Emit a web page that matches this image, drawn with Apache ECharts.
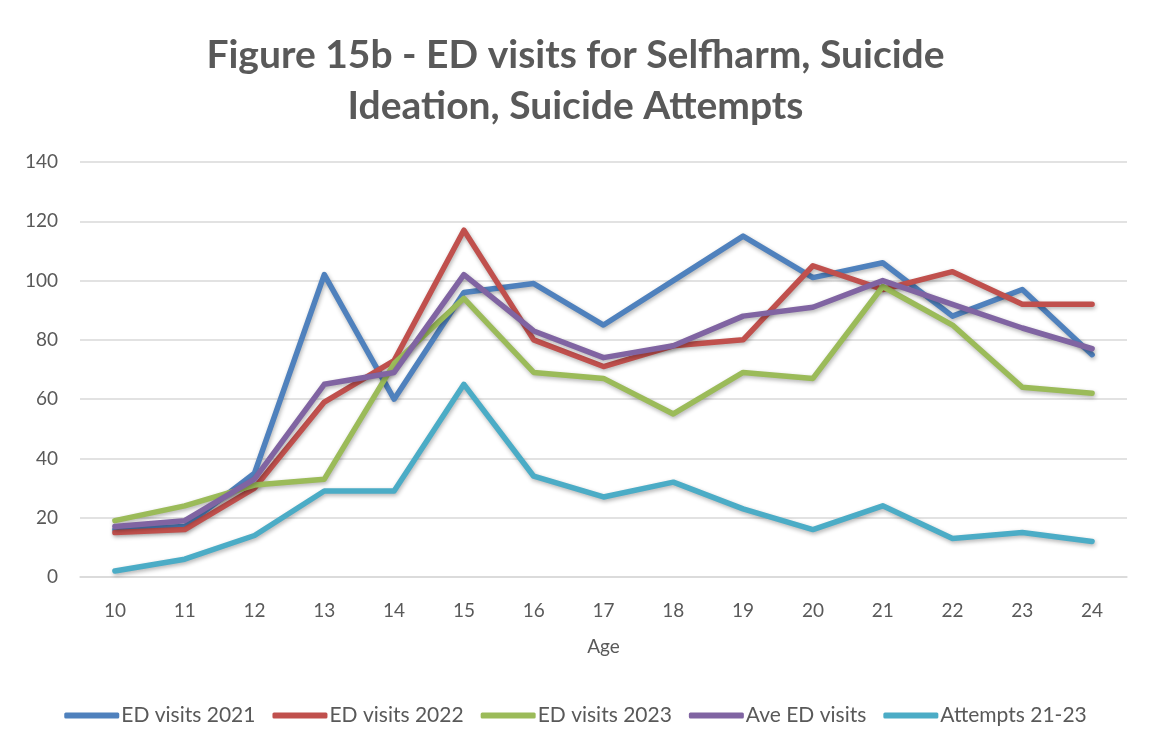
<!DOCTYPE html>
<html><head><meta charset="utf-8">
<script src="https://cdn.jsdelivr.net/npm/echarts@6/dist/echarts.min.js"></script>
<style>html,body{margin:0;padding:0;background:#fff}#c{width:1151px;height:751px}</style>
</head><body><div id="c"></div>
<script>
const ages = ['10','11','12','13','14','15','16','17','18','19','20','21','22','23','24'];
const ed2021 = [16,17,35,102,60,96,99,85,100,115,101,106,88,97,75];
const ed2022 = [15,16,30,59,73,117,80,71,78,80,105,97,103,92,92];
const ed2023 = [19,24,31,33,72,94,69,67,55,69,67,98,85,64,62];
const edAve = [17,19,33,65,69,102,83,74,78,88,91,100,92,84,77];
const attempts = [2,6,14,29,29,65,34,27,32,23,16,24,13,15,12];
const yTicks = [0,20,40,60,80,100,120,140];
const names = ['ED visits 2021','ED visits 2022','ED visits 2023','Ave ED visits','Attempts 21-23'];
const colors = ['#4f81bd','#c0504d','#9bbb59','#8064a2','#4bacc6'];
const dataSets = [ed2021, ed2022, ed2023, edAve, attempts];
const font = 'Lato, "Open Sans", sans-serif';
const chart = echarts.init(document.getElementById('c'));
chart.setOption({
  animation: false,
  title: {
    text: 'Figure 15b - ED visits for Selfharm, Suicide\nIdeation, Suicide Attempts',
    left: 'center', top: 25,
    textStyle: {fontFamily: font, fontSize: 39, fontWeight: 'bold', color: '#595959', lineHeight: 51}
  },
  legend: {
    bottom: 20, left: 'center', itemWidth: 55, itemHeight: 6, itemGap: 17,
    icon: 'roundRect',
    textStyle: {fontFamily: font, fontSize: 21, color: '#595959', padding: [0,0,0,-3]},
    data: names
  },
  grid: {left: 80, right: 24, top: 162, bottom: 174},
  xAxis: {
    type: 'category', data: ages, boundaryGap: true,
    name: 'Age', nameLocation: 'middle', nameGap: 60,
    nameTextStyle: {fontFamily: font, fontSize: 19, color: '#595959'},
    axisLine: {lineStyle: {color: '#d9d9d9', width: 1.5}},
    axisTick: {show: false},
    axisLabel: {fontFamily: font, fontSize: 19, color: '#595959', margin: 24}
  },
  yAxis: {
    type: 'value', min: yTicks[0], max: yTicks[yTicks.length-1], interval: 20,
    axisLine: {show: false}, axisTick: {show: false},
    axisLabel: {fontFamily: font, fontSize: 19, color: '#595959', margin: 22},
    splitLine: {lineStyle: {color: '#d9d9d9', width: 1.5}}
  },
  series: names.map((n, i) => ({
    name: n, type: 'line', data: dataSets[i], symbol: 'none',
    lineStyle: {color: colors[i], width: 5.5, cap: 'round', join: 'round',
      shadowColor: 'rgba(0,0,0,0.3)', shadowBlur: 4, shadowOffsetX: 1, shadowOffsetY: 2},
    itemStyle: {color: colors[i]}
  }))
});
</script></body></html>
